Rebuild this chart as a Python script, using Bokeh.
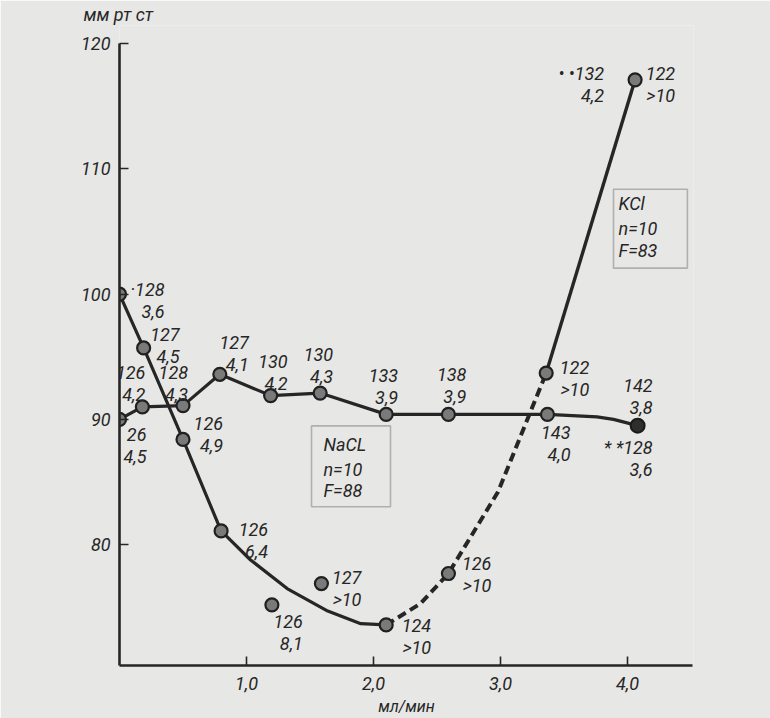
from bokeh.plotting import figure
from bokeh.models import Range1d, FixedTicker, BoxAnnotation, ColumnDataSource
from bokeh.core.properties import value
from bokeh.embed import file_html
from bokeh.resources import INLINE

FONT = "Roboto"
INK = "#262626"
BG = "#e7e7e5"

# ---------------- data ----------------
# KCl series: perfusion rate (ml/min) vs pressure (mm Hg)
kcl_x = [0.0, 0.19, 0.50, 0.80, 2.10, 2.59, 3.36, 4.06]
kcl_y = [100.0, 95.7, 88.4, 81.1, 73.6, 77.7, 93.7, 117.1]
kcl_top = ["·128", "127", "126", "126", "124", "126", "122", "122"]
kcl_bot = ["3,6", "4,5", "4,9", "6,4", ">10", ">10", ">10", ">10"]

# KCl curve
kcl_solid_x = [0.0, 0.19, 0.50, 0.80, 1.03, 1.32, 1.64, 1.90, 2.10]
kcl_solid_y = [100.0, 95.7, 88.4, 81.1, 78.8, 76.5, 74.7, 73.7, 73.6]
kcl_dash_x = [2.10, 2.37, 2.59, 2.98, 3.36]
kcl_dash_y = [73.6, 75.3, 77.7, 84.2, 93.7]
kcl_upper_x = [3.36, 4.06]
kcl_upper_y = [93.7, 117.1]

# isolated KCl points
iso_x = [1.59, 1.20]
iso_y = [76.9, 75.2]
iso_top = ["127", "126"]
iso_bot = [">10", "8,1"]

# NaCl series
nacl_x = [0.0, 0.18, 0.50, 0.79, 1.19, 1.58, 2.10, 2.59, 3.37, 4.08]
nacl_y = [90.0, 91.0, 91.1, 93.6, 91.9, 92.1, 90.4, 90.4, 90.4, 89.5]
nacl_top = ["26", "126", "128", "127", "130", "130", "133", "138", "143", "142"]
nacl_bot = ["4,5", "4,2", "4,3", "4,1", "4,2", "4,3", "3,9", "3,9", "4,0", "3,8"]
nacl_line_x = [0.0, 0.18, 0.50, 0.79, 1.19, 1.58, 2.10, 2.59, 3.37, 3.76, 3.89, 4.08]
nacl_line_y = [90.0, 91.0, 91.1, 93.6, 91.9, 92.1, 90.4, 90.4, 90.4, 90.2, 90.0, 89.5]

# extra starred annotations (attached to the last point of each series)
kcl_extra = ["• •132", "4,2"]
nacl_extra = ["* *128", "3,6"]

kcl_box = ["KCl", "n=10", "F=83"]
nacl_box = ["NaCL", "n=10", "F=88"]

y_ticks = [80, 90, 100, 110, 120]
x_ticks = [1, 2, 3, 4]
x_tick_labels = ["1,0", "2,0", "3,0", "4,0"]
y_title = "мм рт ст"
x_title = "мл/мин"

# ---------------- layout (label offsets in px, right edge / middle) ----------------
kcl_dx = [45, 36, 40, 47, 45, 43, 43, 40]
kcl_dy = [6, -2, -5, 10, 12, 1, 5, 5]
iso_dx = [40, 31]
iso_dy = [5, 28]
nacl_dx = [27, 3, 5, 29, 17, 13, 12, 18, 23, 15]
nacl_dy = [26, -23, -22, -21, -23, -28, -28, -29, 29, -29]

FRAME_TOP = 24     # page y of the frame top (title panel height)
Y_START = 70.36
Y_END = 100 + (293 - FRAME_TOP) / 12.55

p = figure(width=770, height=718, output_backend="svg", toolbar_location=None,
           x_range=Range1d(0, 4.52), y_range=Range1d(Y_START, Y_END),
           min_border_left=119, min_border_right=77, min_border_top=0, min_border_bottom=53)
p.background_fill_color = BG
p.border_fill_color = BG
p.outline_line_color = None
p.grid.visible = False

p.title.text = y_title
p.title.align = "left"
p.title.offset = -36
p.title.standoff = 2
p.title.text_font = FONT
p.title.text_font_style = "italic"
p.title.text_font_size = "18px"
p.title.text_color = INK

# axes
xa = p.xaxis[0]
xa.ticker = FixedTicker(ticks=x_ticks)
xa.major_label_overrides = {t: l for t, l in zip(x_ticks, x_tick_labels)}
xa.bounds = (0, 4.51)
xa.axis_label = x_title
xa.axis_label_text_font = FONT
xa.axis_label_text_font_style = "italic"
xa.axis_label_text_font_size = "16px"
xa.axis_label_text_color = INK
xa.axis_label_standoff = 4
ya = p.yaxis[0]
ya.ticker = FixedTicker(ticks=y_ticks)
ya.bounds = (Y_START, 120)
for ax in (xa, ya):
    ax.axis_line_width = 2.6
    ax.axis_line_color = INK
    ax.major_tick_line_color = INK
    ax.major_tick_line_width = 1.6
    ax.major_tick_in = 9
    ax.major_tick_out = 0
    ax.minor_tick_line_color = None
    ax.major_label_text_font = FONT
    ax.major_label_text_font_style = "italic"
    ax.major_label_text_font_size = "18px"
    ax.major_label_text_color = INK
xa.major_label_standoff = 11
ya.major_label_standoff = 9

# lines
p.line(kcl_solid_x, kcl_solid_y, line_width=3.2, line_color=INK)
p.line(kcl_dash_x, kcl_dash_y, line_width=4, line_color=INK, line_dash="9 5")
p.line(kcl_upper_x, kcl_upper_y, line_width=3.4, line_color=INK)
p.line(nacl_line_x, nacl_line_y, line_width=3.2, line_color=INK)

# markers
mk = dict(size=13, fill_color="#7a7a7a", line_color="#202020", line_width=2.2)
p.scatter(kcl_x, kcl_y, **mk)
p.scatter(iso_x, iso_y, **mk)
p.scatter(nacl_x[:-1], nacl_y[:-1], **mk)
p.scatter(nacl_x[-1:], nacl_y[-1:], size=14, fill_color="#2e2e2e", line_color="#1a1a1a", line_width=2)

txt = dict(text_align="right", text_baseline="middle", text_font=value(FONT),
           text_font_style="italic", text_font_size="18px", text_color=INK,
           text_line_height=1.05)

def labels(xs, ys, tops, bots, dx, dy):
    src = ColumnDataSource(dict(x=xs, y=ys,
                                t=[a + "\n" + b for a, b in zip(tops, bots)],
                                dx=dx, dy=dy))
    p.text(x="x", y="y", text="t", x_offset="dx", y_offset="dy", source=src, **txt)

labels(kcl_x, kcl_y, kcl_top, kcl_bot, kcl_dx, kcl_dy)
labels(iso_x, iso_y, iso_top, iso_bot, iso_dx, iso_dy)
labels(nacl_x, nacl_y, nacl_top, nacl_bot, nacl_dx, nacl_dy)
labels(kcl_x[-1:], kcl_y[-1:], kcl_extra[:1], kcl_extra[1:], [-31], [5])
labels(nacl_x[-1:], nacl_y[-1:], nacl_extra[:1], nacl_extra[1:], [15], [33])

# legend boxes
p.add_layout(BoxAnnotation(left=1.512, right=2.134, bottom=83.03, top=89.48,
                           fill_alpha=0, line_color="#333333", line_width=1.6))
p.add_layout(BoxAnnotation(left=3.890, right=4.472, bottom=102.07, top=108.37,
                           fill_alpha=0, line_color="#333333", line_width=1.6))
box_txt = dict(text_align="left", text_baseline="middle", text_font=value(FONT),
               text_font_style="italic", text_font_size="18px", text_color=INK)
p.text(x=[1.606] * 3, y=[88.0, 86.0, 84.3], text=nacl_box, **box_txt)
p.text(x=[3.93] * 3, y=[107.2, 105.2, 103.5], text=kcl_box, **box_txt)

open("out.html", "w").write(file_html(p, INLINE))
